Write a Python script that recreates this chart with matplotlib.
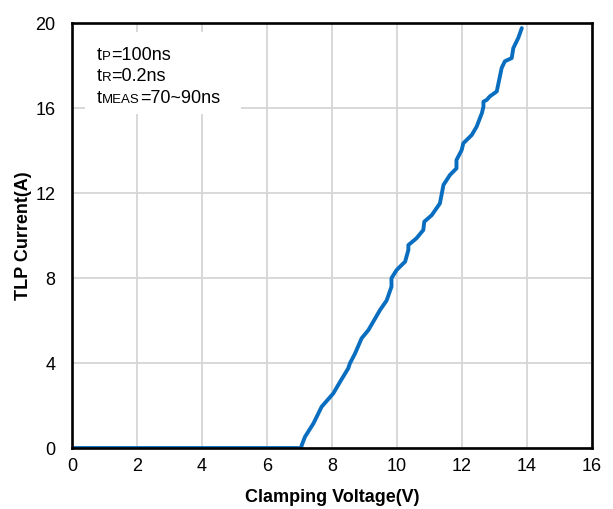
import matplotlib

matplotlib.use("Agg")

import matplotlib.pyplot as plt
from matplotlib.offsetbox import AnchoredOffsetbox, HPacker, TextArea, VPacker
from matplotlib.patches import Rectangle

plt.rcParams["font.family"] = ["Liberation Sans", "DejaVu Sans"]

# TLP curve (clamping voltage V, current A)
voltage = [0.0, 7.05, 7.07, 7.17, 7.43, 7.68, 8.04, 8.25, 8.5, 8.55, 8.71, 8.91,
           9.12, 9.48, 9.68, 9.83, 9.83, 9.99, 10.25, 10.35, 10.35, 10.6, 10.81,
           10.84, 11.07, 11.32, 11.43, 11.63, 11.83, 11.83, 11.99, 12.04, 12.3,
           12.45, 12.61, 12.66, 12.66, 12.76, 12.86, 13.07, 13.22, 13.32, 13.53,
           13.58, 13.73, 13.84]
current = [0.0, 0.0, 0.14, 0.53, 1.16, 1.94, 2.57, 3.12, 3.75, 3.98, 4.45, 5.16,
           5.55, 6.5, 6.94, 7.59, 7.99, 8.38, 8.77, 9.32, 9.55, 9.87, 10.26,
           10.65, 10.96, 11.51, 12.38, 12.85, 13.16, 13.55, 14.02, 14.34, 14.73,
           15.12, 15.75, 16.06, 16.3, 16.38, 16.55, 16.78, 17.88, 18.2, 18.35,
           18.82, 19.29, 19.76]

x_ticks = [0, 2, 4, 6, 8, 10, 12, 14, 16]
y_ticks = [0, 4, 8, 12, 16, 20]

# (base, small caps part, rest) for each annotation line
notes = [("t", "P", "=100ns"), ("t", "R", "=0.2ns"), ("t", "MEAS", "=70~90ns")]

fig = plt.figure(figsize=(6.13, 5.09), dpi=100)
ax = fig.add_axes([0.1175, 0.1198, 0.8482, 0.835])

ax.plot(voltage, current, color="#0A6EC0", linewidth=2.8, solid_capstyle="round",
        solid_joinstyle="round", zorder=4)

ax.set_xlim(0, 16)
ax.set_ylim(0, 20)
ax.set_xticks(x_ticks)
ax.set_yticks(y_ticks)
ax.tick_params(length=0, labelsize=13)
ax.tick_params(axis="x", pad=7)
ax.tick_params(axis="y", pad=12)
ax.grid(color="#D6D6D6", linewidth=1.3, zorder=0)
ax.set_axisbelow(True)
for spine in ax.spines.values():
    spine.set_linewidth(1.9)
    spine.set_zorder(5)

ax.set_xlabel("Clamping Voltage(V)", fontsize=13, fontweight="bold", labelpad=10)
ax.set_ylabel("TLP Current(A)", fontsize=13, fontweight="bold", labelpad=2)

ax.add_patch(Rectangle((0.025, 0.785), 0.3, 0.195, transform=ax.transAxes,
                       facecolor="white", edgecolor="none", zorder=2))

rows = []
for base, small, rest in notes:
    rows.append(HPacker(children=[TextArea(base, textprops=dict(fontsize=13)),
                                  TextArea(small, textprops=dict(fontsize=9.5)),
                                  TextArea(rest, textprops=dict(fontsize=13))],
                        align="baseline", pad=0, sep=0))
box = VPacker(children=rows, align="left", pad=0, sep=3)
anchored = AnchoredOffsetbox(loc="upper left", child=box, frameon=False, pad=0,
                             borderpad=0, bbox_to_anchor=(0.048, 0.943),
                             bbox_transform=ax.transAxes)
anchored.set_zorder(3)
ax.add_artist(anchored)

fig.savefig("out.png", dpi=100)
